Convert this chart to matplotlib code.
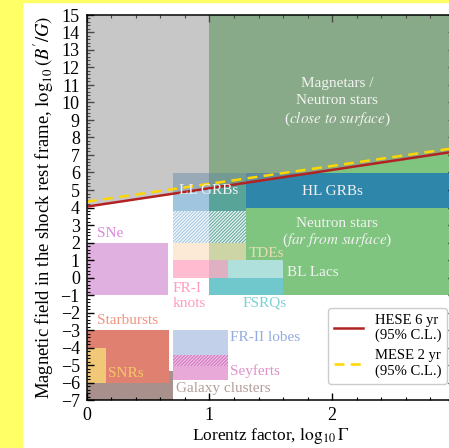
import matplotlib
matplotlib.use("Agg")
import matplotlib.pyplot as plt
from matplotlib.patches import Rectangle
from matplotlib.ticker import MultipleLocator
import numpy as np

plt.rcParams['font.family'] = ['Liberation Serif', 'DejaVu Serif']
plt.rcParams['mathtext.fontset'] = 'stix'
plt.rcParams['hatch.linewidth'] = 1.0

# Source classes: extents in log10(Gamma) and log10(B'/G)
sources = ["NS far", "Magnetars", "HL GRBs", "LL GRBs", "LL GRBs (hatched)",
           "TDEs", "BL Lacs", "FSRQs", "FR-I knots", "SNe",
           "Galaxy clusters", "Starbursts", "SNRs",
           "FR-II lobes", "Seyferts (hatched)", "Seyferts"]
gamma_lo = [1.0, 1.0, 1.3, 0.70, 0.70, 0.70, 1.0, 1.0, 0.70, 0.0,
            0.0, 0.0, 0.0, 0.70, 0.70, 0.70]
gamma_hi = [3.0, 3.0, 3.0, 1.30, 1.30, 1.30, 1.6, 1.6, 1.15, 0.66,
            0.70, 0.67, 0.155, 1.15, 1.15, 1.15]
b_lo = [-1.0, 4.0, 4.0, 3.8, 2.0, 1.0, 0.0, -1.0, 0.0, -1.0,
        -7.0, -6.0, -6.0, -4.43, -5.04, -5.86]
b_hi = [4.0, 15.0, 6.0, 6.0, 3.8, 2.0, 1.0, 0.0, 1.0, 2.0,
        -5.35, -3.0, -4.0, -3.0, -4.43, -5.04]

# IceCube limits (straight lines in log-log space)
limit_gamma = [0.0, 3.0]
hese_b = [4.05, 7.2]
mese_b = [4.33, 7.4]

styles = {
    "NS far":             dict(fc='#7fc47f', alpha=1.0),
    "Magnetars":          dict(fc='#7fc47f', alpha=1.0),
    "HL GRBs":            dict(fc='#2e86ab', alpha=1.0),
    "LL GRBs":            dict(fc='#2c7fb8', alpha=0.45),
    "LL GRBs (hatched)":  dict(fc='#2c7fb8', alpha=0.45, hatch='/' * 10, hc='white'),
    "TDEs":               dict(fc='#fcdfbf', alpha=0.63),
    "BL Lacs":            dict(fc='#b0e0dc', alpha=1.0),
    "FSRQs":              dict(fc='#70c8cc', alpha=1.0),
    "FR-I knots":         dict(fc='#ff8fb1', alpha=0.6),
    "SNe":                dict(fc='#e0b0e0', alpha=1.0),
    "Galaxy clusters":    dict(fc='#a8908c', alpha=1.0),
    "Starbursts":         dict(fc='#e08070', alpha=1.0),
    "SNRs":               dict(fc='#f0c878', alpha=1.0),
    "FR-II lobes":        dict(fc='#c3d0ea', alpha=1.0),
    "Seyferts (hatched)": dict(fc='#f3cbe6', alpha=1.0, hatch='/' * 10, hc='#d070c0'),
    "Seyferts":           dict(fc='#e8a8d8', alpha=1.0),
}

fig = plt.figure(figsize=(4.49, 4.48), dpi=100)
fig.patches.append(Rectangle((0, 0), 22 / 449, 1, transform=fig.transFigure,
                             color='#ffff66', zorder=-10))
fig.patches.append(Rectangle((0, 1 - 2 / 448), 1, 2 / 448, transform=fig.transFigure,
                             color='#ffff66', zorder=-10))
ax = fig.add_axes([86.7 / 449, 48 / 448, 368.3 / 449, 385 / 448])

for i, name in enumerate(sources):
    st = styles[name]
    w = gamma_hi[i] - gamma_lo[i]
    h = b_hi[i] - b_lo[i]
    ax.add_patch(Rectangle((gamma_lo[i], b_lo[i]), w, h, facecolor=st['fc'],
                           alpha=st['alpha'], linewidth=0, zorder=1 + i * 0.01))
    if 'hatch' in st:
        ax.add_patch(Rectangle((gamma_lo[i], b_lo[i]), w, h, facecolor='none',
                               edgecolor=st['hc'], hatch=st['hatch'], linewidth=0,
                               alpha=0.85, zorder=1.5))

# excluded region above the HESE limit
gx = np.array(limit_gamma)
ax.fill_between(gx, hese_b, 15, color='#919191', alpha=0.5, linewidth=0, zorder=2)

ax.plot(limit_gamma, hese_b, color='#b22222', lw=1.8, zorder=3,
        label='HESE 6 yr\n(95% C.L.)')
ax.plot(limit_gamma, mese_b, color='#ffd700', lw=1.8, ls=(0, (4, 2.5)), zorder=3,
        label='MESE 2 yr\n(95% C.L.)')

fs = 11
white = '#f2f2f2'
ax.text(2.04, 11.06, 'Magnetars /', color=white, fontsize=fs, ha='center', va='center', zorder=4)
ax.text(2.04, 10.09, 'Neutron stars', color=white, fontsize=fs, ha='center', va='center', zorder=4)
ax.text(2.04, 9.06, '(' + r'$\mathit{close\ to\ surface}$' + ')', color=white, fontsize=fs,
        ha='center', va='center', zorder=4)
ax.text(0.99, 5.0, 'LL GRBs', color=white, fontsize=fs, ha='center', va='center', zorder=4)
ax.text(2.0, 4.9, 'HL GRBs', color=white, fontsize=fs, ha='center', va='center', zorder=4)
ax.text(2.04, 3.06, 'Neutron stars', color=white, fontsize=fs, ha='center', va='center', zorder=4)
ax.text(2.04, 2.1, '(' + r'$\mathit{far\ from\ surface}$' + ')', color=white, fontsize=fs,
        ha='center', va='center', zorder=4)
ax.text(1.32, 1.4, 'TDEs', color='#ecdcb4', fontsize=fs, ha='left', va='center', zorder=4)
ax.text(1.63, 0.27, 'BL Lacs', color=white, fontsize=fs, ha='left', va='center', zorder=4)
ax.text(1.27, -1.47, 'FSRQs', color='#7ed0d4', fontsize=fs, ha='left', va='center', zorder=4)
ax.text(0.70, -0.62, 'FR-I', color='#ff9cc0', fontsize=fs, ha='left', va='center', zorder=4)
ax.text(0.70, -1.47, 'knots', color='#ff9cc0', fontsize=fs, ha='left', va='center', zorder=4)
ax.text(0.086, 2.53, 'SNe', color='#dd88dd', fontsize=fs, ha='left', va='center', zorder=4)
ax.text(0.086, -2.43, 'Starbursts', color='#f09482', fontsize=fs, ha='left', va='center', zorder=4)
ax.text(0.17, -5.48, 'SNRs', color='#f5c868', fontsize=fs, ha='left', va='center', zorder=4)
ax.text(1.17, -3.44, 'FR-II lobes', color='#93abe0', fontsize=fs, ha='left', va='center', zorder=4)
ax.text(1.17, -5.34, 'Seyferts', color='#e090cc', fontsize=fs, ha='left', va='center', zorder=4)
ax.text(0.725, -6.33, 'Galaxy clusters', color='#b39e9a', fontsize=fs, ha='left', va='center', zorder=4)

ax.set_xlim(0, 3)
ax.set_ylim(-7, 15)
ax.set_xticks([0, 1, 2, 3], ['0', '1', '2', ''])
ax.xaxis.set_minor_locator(MultipleLocator(0.2))
ax.yaxis.set_major_locator(MultipleLocator(1))
ax.yaxis.set_minor_locator(MultipleLocator(0.2))
ax.tick_params(which='both', direction='in', top=True, right=True, labelsize=13)
ax.tick_params(which='major', length=5, width=1, pad=5)
ax.tick_params(which='minor', length=2.5, width=0.8)
for s in ax.spines.values():
    s.set_linewidth(1.1)
    s.set_zorder(5)

ax.set_xlabel(r'Lorentz factor, $\log_{10}\Gamma$', fontsize=12.5, labelpad=1)
ax.set_ylabel(r"Magnetic field in the shock rest frame, $\log_{10}(B'/G)$",
              fontsize=13.4, labelpad=3)

leg = ax.legend(loc='lower right', bbox_to_anchor=(0.978, 0.042), borderaxespad=0,
                fontsize=10.5, frameon=True, fancybox=True, framealpha=1,
                edgecolor='#cccccc', handlelength=2.0, labelspacing=0.5)
leg.set_zorder(6)

fig.savefig('out.png', dpi=100)
